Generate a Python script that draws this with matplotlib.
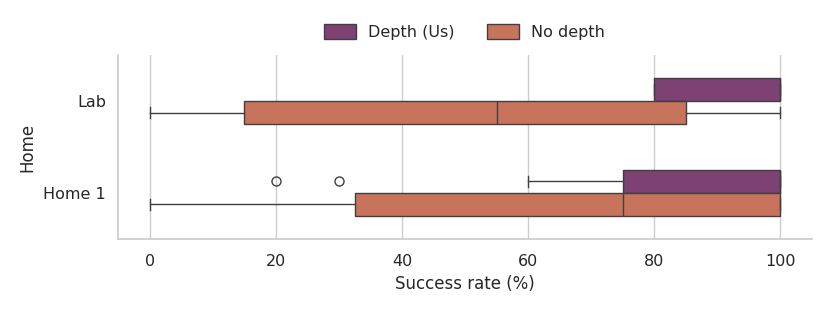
import matplotlib
matplotlib.use("Agg")
import matplotlib.pyplot as plt
from matplotlib.patches import Patch

categories = ["Lab", "Home 1"]
hues = ["Depth (Us)", "No depth"]
colors = ["#7D4174", "#C8735C"]

# box statistics per hue, per category
whislo = {"Depth (Us)": [80, 60], "No depth": [0, 0]}
q1 = {"Depth (Us)": [80, 75], "No depth": [15, 32.5]}
med = {"Depth (Us)": [100, 100], "No depth": [55, 75]}
q3 = {"Depth (Us)": [100, 100], "No depth": [85, 100]}
whishi = {"Depth (Us)": [100, 100], "No depth": [100, 100]}
fliers = {"Depth (Us)": [[], [20, 30]], "No depth": [[], []]}

plt.rcParams["font.family"] = ["DejaVu Sans"]
fig = plt.figure(figsize=(8.3, 3.12), dpi=100)
ax = fig.add_axes([0.1422, 0.234, 0.8361, 0.5897])

edge = "#3f3f3f"
box_h = 0.25
for hi, h in enumerate(hues):
    stats = []
    for ci in range(len(categories)):
        stats.append(dict(whislo=whislo[h][ci], q1=q1[h][ci], med=med[h][ci],
                          q3=q3[h][ci], whishi=whishi[h][ci], fliers=fliers[h][ci]))
    offs = -box_h / 2 if hi == 0 else box_h / 2
    pos = [i + offs for i in range(len(categories))]
    ax.bxp(stats, positions=pos, widths=box_h, vert=False, patch_artist=True,
           showcaps=True,
           boxprops=dict(facecolor=colors[hi], edgecolor=edge, linewidth=1.0),
           medianprops=dict(color=edge, linewidth=1.0),
           whiskerprops=dict(color=edge, linewidth=1.0),
           capprops=dict(color=edge, linewidth=1.0),
           flierprops=dict(marker="o", markerfacecolor="none", markeredgecolor=edge,
                           markersize=6.5, markeredgewidth=1.0),
           capwidths=box_h / 2, zorder=3)

ax.set_ylim(1.5, -0.5)
ax.set_xlim(-5, 105)
ax.set_yticks(range(len(categories)))
ax.set_yticklabels(categories)
ax.set_xticks([0, 20, 40, 60, 80, 100])
ax.set_xticklabels(["0", "20", "40", "60", "80", "100"])
ax.tick_params(axis="both", length=0, labelsize=11.5, colors="#262626")
ax.tick_params(axis="x", pad=11)
ax.tick_params(axis="y", pad=8.5)
ax.xaxis.grid(True, color="#cccccc", linewidth=1.0, zorder=0)
ax.yaxis.grid(False)
ax.set_axisbelow(True)
for s in ["top", "right"]:
    ax.spines[s].set_visible(False)
for s in ["left", "bottom"]:
    ax.spines[s].set_color("#cccccc")
    ax.spines[s].set_linewidth(1.25)
ax.set_xlabel("Success rate (%)", fontsize=12, color="#262626", labelpad=4)
ax.set_ylabel("Home", fontsize=12, color="#262626", labelpad=5)

handles = [Patch(facecolor=colors[i], edgecolor=edge, linewidth=1.0, label=hues[i]) for i in range(2)]
fig.legend(handles=handles, loc="center", bbox_to_anchor=(0.5596, 0.897), ncol=2,
           frameon=False, fontsize=11.5, handlelength=2.0, handleheight=1.0,
           columnspacing=2.0, labelcolor="#262626")

fig.savefig("out.png", dpi=100)
